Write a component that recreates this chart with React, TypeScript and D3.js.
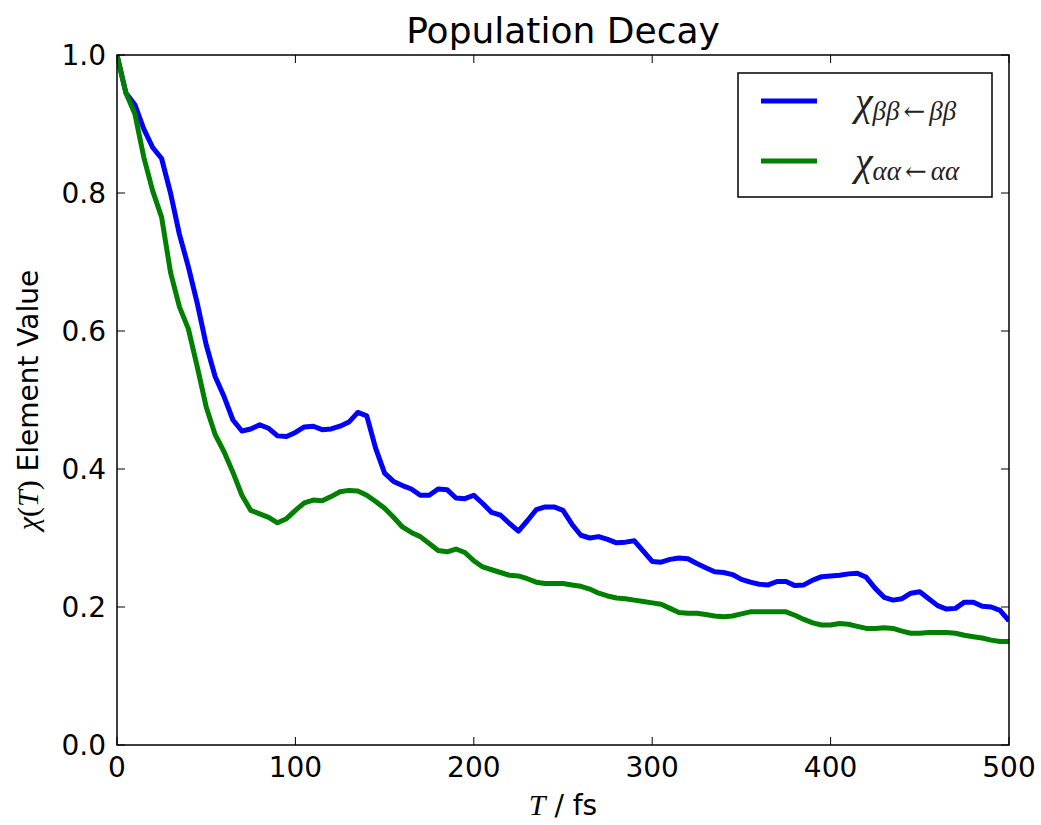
import React from "react";
import * as d3 from "d3";

// Sample times (fs), every 5 fs from 0 to 500
const times: number[] = d3.range(0, 501, 5);

// χ_{ββ←ββ}(T)
const chiBeta: number[] = [
  1.0, 0.945, 0.928, 0.893, 0.866, 0.85, 0.8, 0.74, 0.693, 0.64,
  0.58, 0.534, 0.505, 0.471, 0.455, 0.458, 0.464, 0.459, 0.448, 0.447,
  0.453, 0.461, 0.462, 0.457, 0.458, 0.462, 0.468, 0.482, 0.477, 0.43,
  0.394, 0.382, 0.376, 0.371, 0.362, 0.362, 0.371, 0.37, 0.358, 0.357,
  0.362, 0.35, 0.337, 0.333, 0.321, 0.31, 0.325, 0.341, 0.345, 0.345,
  0.34, 0.32, 0.304, 0.3, 0.302, 0.298, 0.293, 0.294, 0.296, 0.281,
  0.266, 0.265, 0.269, 0.271, 0.27, 0.263, 0.257, 0.251, 0.25, 0.247,
  0.24, 0.236, 0.233, 0.232, 0.237, 0.237, 0.231, 0.232, 0.239, 0.244,
  0.245, 0.246, 0.248, 0.249, 0.243, 0.227, 0.214, 0.21, 0.212, 0.22,
  0.222, 0.212, 0.202, 0.197, 0.198, 0.207, 0.207, 0.201, 0.2, 0.195,
  0.18,
];

// χ_{αα←αα}(T)
const chiAlpha: number[] = [
  1.0, 0.945, 0.915, 0.852, 0.803, 0.765, 0.685, 0.635, 0.603, 0.548,
  0.49, 0.45, 0.425, 0.395, 0.362, 0.34, 0.335, 0.33, 0.322, 0.328,
  0.34, 0.351, 0.355, 0.354, 0.36, 0.367, 0.369, 0.368, 0.362, 0.353,
  0.343, 0.33, 0.316, 0.308, 0.302, 0.292, 0.282, 0.28, 0.284, 0.279,
  0.267, 0.258, 0.254, 0.25, 0.246, 0.245, 0.241, 0.236, 0.234, 0.234,
  0.234, 0.232, 0.23, 0.226, 0.22, 0.216, 0.213, 0.212, 0.21, 0.208,
  0.206, 0.204, 0.198, 0.192, 0.191, 0.191, 0.189, 0.187, 0.186, 0.187,
  0.19, 0.193, 0.193, 0.193, 0.193, 0.193, 0.188, 0.182, 0.177, 0.174,
  0.174, 0.176, 0.175, 0.172, 0.169, 0.169, 0.17, 0.169, 0.165, 0.162,
  0.162, 0.163, 0.163, 0.163, 0.162, 0.159, 0.157, 0.155, 0.152, 0.15,
  0.15,
];

const xTicks: number[] = [0, 100, 200, 300, 400, 500];
const yTicks: number[] = [0.0, 0.2, 0.4, 0.6, 0.8, 1.0];

const W = 1041;
const H = 825;
const left = 117;
const right = 1009;
const top = 55;
const bottom = 745;

const SANS = "'DejaVu Sans', sans-serif";
const SERIF = "'Liberation Serif', 'DejaVu Serif', serif";

export default function App() {
  const x = d3.scaleLinear().domain([0, 500]).range([left, right]);
  const y = d3.scaleLinear().domain([0, 1]).range([bottom, top]);

  const line = d3
    .line<number>()
    .x((_, i) => x(times[i]))
    .y((d) => y(d));

  const tickLen = 8;

  const series = [
    { values: chiBeta, color: "#0000ff", sub: "ββ", sup: "ββ" },
    { values: chiAlpha, color: "#008000", sub: "αα", sup: "αα" },
  ];

  return (
    <svg
      width={W}
      height={H}
      style={{ position: "absolute", left: 0, top: 0, background: "#fff" }}
    >
      <rect x={0} y={0} width={W} height={H} fill="#fff" />

      <defs>
        <clipPath id="plot-area">
          <rect x={left} y={top} width={right - left} height={bottom - top} />
        </clipPath>
      </defs>

      {/* data lines */}
      <g clipPath="url(#plot-area)">
        {series.map((s, k) => (
          <path
            key={k}
            d={line(s.values) || ""}
            fill="none"
            stroke={s.color}
            strokeWidth={5}
            strokeLinejoin="round"
            strokeLinecap="butt"
          />
        ))}
      </g>

      {/* frame */}
      <rect
        x={left}
        y={top}
        width={right - left}
        height={bottom - top}
        fill="none"
        stroke="#000"
        strokeWidth={1.5}
      />

      {/* x ticks (bottom and top, pointing inward) */}
      {xTicks.map((t) => (
        <g key={"xt" + t}>
          <line x1={x(t)} x2={x(t)} y1={bottom} y2={bottom - tickLen} stroke="#000" strokeWidth={1} />
          <line x1={x(t)} x2={x(t)} y1={top} y2={top + tickLen} stroke="#000" strokeWidth={1} />
          <text
            x={x(t)}
            y={bottom + 32}
            fontFamily={SANS}
            fontSize={28}
            textAnchor="middle"
            fill="#000"
          >
            {t}
          </text>
        </g>
      ))}

      {/* y ticks (left and right, pointing inward) */}
      {yTicks.map((t) => (
        <g key={"yt" + t}>
          <line x1={left} x2={left + tickLen} y1={y(t)} y2={y(t)} stroke="#000" strokeWidth={1} />
          <line x1={right} x2={right - tickLen} y1={y(t)} y2={y(t)} stroke="#000" strokeWidth={1} />
          <text
            x={left - 11}
            y={y(t)}
            dy="0.36em"
            fontFamily={SANS}
            fontSize={28}
            textAnchor="end"
            fill="#000"
          >
            {t.toFixed(1)}
          </text>
        </g>
      ))}

      {/* title */}
      <text
        x={(left + right) / 2}
        y={43}
        fontFamily={SANS}
        fontSize={36}
        textAnchor="middle"
        fill="#000"
      >
        Population Decay
      </text>

      {/* x axis label */}
      <text
        x={(left + right) / 2}
        y={815}
        fontSize={28}
        textAnchor="middle"
        fill="#000"
      >
        <tspan fontFamily={SERIF} fontStyle="italic" fontSize={30}>T</tspan>
        <tspan fontFamily={SANS}> / fs</tspan>
      </text>

      {/* y axis label */}
      <text
        transform={`translate(38, ${(top + bottom) / 2}) rotate(-90)`}
        fontSize={28}
        textAnchor="middle"
        fill="#000"
      >
        <tspan fontFamily={SERIF} fontStyle="italic" fontSize={30}>χ</tspan>
        <tspan fontFamily={SERIF} fontSize={30}>(</tspan>
        <tspan fontFamily={SERIF} fontStyle="italic" fontSize={30}>T</tspan>
        <tspan fontFamily={SERIF} fontSize={30}>)</tspan>
        <tspan fontFamily={SANS}> Element Value</tspan>
      </text>

      {/* legend */}
      <g>
        <rect x={738} y={73} width={254} height={124} fill="#fff" stroke="#000" strokeWidth={1.5} />
        {series.map((s, k) => {
          const cy = 101 + k * 60;
          return (
            <g key={"lg" + k}>
              <line x1={761} x2={817} y1={cy} y2={cy} stroke={s.color} strokeWidth={5} />
              <text x={855} y={cy + 14} fill="#222">
                <tspan fontFamily={SERIF} fontStyle="italic" fontSize={40}>χ</tspan>
                <tspan fontFamily={SERIF} fontStyle="italic" fontSize={27} dy={5}>{s.sub}</tspan>
                <tspan fontFamily="'DejaVu Serif', serif" fontSize={26} dx={4}>←</tspan>
                <tspan fontFamily={SERIF} fontStyle="italic" fontSize={27} dx={4}>{s.sup}</tspan>
              </text>
            </g>
          );
        })}
      </g>
    </svg>
  );
}
